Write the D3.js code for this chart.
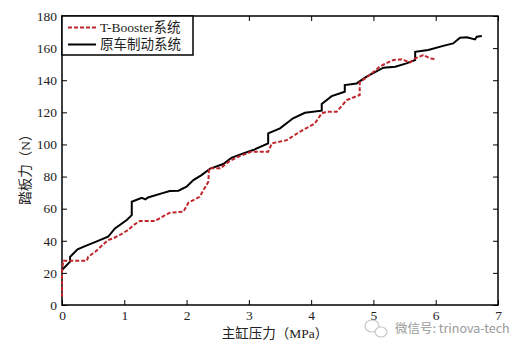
<!DOCTYPE html>
<html>
<head>
<meta charset="utf-8">
<script src="https://cdn.jsdelivr.net/npm/d3@7"></script>
<style>
  body { margin: 0; background: #fff; }
  svg text { font-family: "Times New Roman", "Liberation Serif", "DejaVu Serif", "Noto Sans CJK SC", serif; }
</style>
</head>
<body>
<svg id="chart" width="532" height="349"></svg>
<script>
// Data: [master cylinder pressure MPa, pedal force N]
var xTicks = [0, 1, 2, 3, 4, 5, 6, 7];
var yTicks = [0, 20, 40, 60, 80, 100, 120, 140, 160, 180];

var seriesNames = ["T-Booster系统", "原车制动系统"];

var tBooster = [
  [0, 5.2], [0, 20.7], [0.02, 27.6], [0.4, 27.6], [0.42, 30], [0.53, 33],
  [0.74, 40.5], [0.82, 41.5], [0.93, 43.6], [1.06, 46.7], [1.15, 49.8],
  [1.25, 52.3], [1.49, 52.3], [1.73, 57.5], [1.95, 58.1], [2.03, 63.7],
  [2.21, 67.4], [2.35, 76.8], [2.36, 85.1], [2.54, 85.1], [2.7, 89.9],
  [2.83, 92.3], [3.04, 95.5], [3.31, 95.5], [3.37, 100.7], [3.61, 102.7],
  [3.82, 107.9], [4.06, 113.1], [4.17, 119.4], [4.25, 120.4], [4.41, 120.4],
  [4.57, 127.6], [4.78, 130.8], [4.78, 138.7], [4.94, 143.2], [5.1, 148.4],
  [5.18, 150.1], [5.32, 152.6], [5.45, 153], [5.59, 151.1], [5.67, 153.6],
  [5.8, 155.7], [5.91, 153.6], [6.01, 153]
];

var original = [
  [0, 21.8], [0.13, 27], [0.13, 30], [0.25, 34.7], [0.37, 36.7], [0.53, 39.2],
  [0.74, 42.5], [0.85, 47.7], [1.04, 52.9], [1.12, 56], [1.12, 64.3],
  [1.28, 66.8], [1.34, 65.8], [1.38, 67], [1.6, 69.5], [1.73, 71],
  [1.87, 71.2], [2.0, 73.7], [2.11, 77.8], [2.24, 80.9], [2.38, 85],
  [2.59, 87.8], [2.72, 91.7], [2.91, 94.4], [3.07, 96.5], [3.31, 100.7],
  [3.31, 106.9], [3.5, 110], [3.71, 116.3], [3.9, 119.7], [4.17, 121],
  [4.17, 125.2], [4.33, 130.1], [4.54, 132.8], [4.54, 137], [4.73, 138],
  [4.89, 142.2], [5.16, 147.8], [5.35, 148.4], [5.53, 150.5], [5.67, 152.6],
  [5.67, 157.7], [5.88, 158.8], [6.12, 161.4], [6.28, 162.9], [6.39, 166.4],
  [6.5, 166.7], [6.63, 165.4], [6.66, 167.1], [6.74, 167.5]
];

var red = "#c0272d";
var serif = "'Times New Roman', 'Liberation Serif', 'DejaVu Serif', 'Noto Sans CJK SC', serif";

var svg = d3.select("#chart");
var margin = { left: 62, top: 16, right: 34, bottom: 44 };
var w = 532 - margin.left - margin.right,
    h = 349 - margin.top - margin.bottom;

var x = d3.scaleLinear().domain([0, 7]).range([0, w]);
var y = d3.scaleLinear().domain([0, 180]).range([h, 0]);

var g = svg.append("g").attr("transform", `translate(${margin.left},${margin.top})`);

// axes, ticks pointing inward on all four sides
function styleAxis(sel) {
  sel.attr("font-family", null);
  sel.select(".domain").remove();
  sel.selectAll("line").attr("stroke", "#000");
  sel.selectAll("text")
    .attr("fill", "#222")
    .style("font-size", "13.5px")
    .style("font-family", serif);
}

var fmt = d3.format("d");

g.append("g")
  .attr("transform", `translate(0,${h})`)
  .call(d3.axisBottom(x).tickValues(xTicks).tickFormat(fmt).tickSize(-5).tickPadding(5))
  .call(styleAxis);
g.append("g")
  .call(d3.axisTop(x).tickValues(xTicks).tickSize(-5).tickFormat(""))
  .call(styleAxis);
g.append("g")
  .call(d3.axisLeft(y).tickValues(yTicks).tickFormat(fmt).tickSize(-5).tickPadding(5))
  .call(styleAxis);
g.append("g")
  .attr("transform", `translate(${w},0)`)
  .call(d3.axisRight(y).tickValues(yTicks).tickSize(-5).tickFormat(""))
  .call(styleAxis);

g.append("rect")
  .attr("width", w).attr("height", h)
  .attr("fill", "none").attr("stroke", "#000").attr("stroke-width", 1.5);

var line = d3.line().x(d => x(d[0])).y(d => y(d[1]));

g.append("path")
  .datum(original)
  .attr("d", line)
  .attr("fill", "none")
  .attr("stroke", "#000")
  .attr("stroke-width", 2);

g.append("path")
  .datum(tBooster)
  .attr("d", line)
  .attr("fill", "none")
  .attr("stroke", red)
  .attr("stroke-width", 2)
  .attr("stroke-dasharray", "4,2");

// legend
var leg = g.append("g");
leg.append("rect")
  .attr("width", 131).attr("height", 39)
  .attr("fill", "#fff").attr("stroke", "#000").attr("stroke-width", 1.5);
var legStyles = [
  { stroke: red, dash: "4,2" },
  { stroke: "#000", dash: null }
];
seriesNames.forEach((name, i) => {
  var ly = 11.5 + i * 17;
  leg.append("line")
    .attr("x1", 6).attr("x2", 34).attr("y1", ly).attr("y2", ly)
    .attr("stroke", legStyles[i].stroke)
    .attr("stroke-width", 2)
    .attr("stroke-dasharray", legStyles[i].dash);
  leg.append("text")
    .attr("x", 38).attr("y", ly).attr("dy", "0.35em")
    .attr("fill", "#222")
    .style("font-size", "13.5px")
    .style("font-family", serif)
    .text(name);
});

// axis titles
svg.append("text")
  .attr("x", 275).attr("y", 333).attr("dy", "0.35em")
  .attr("text-anchor", "middle")
  .attr("fill", "#222")
  .style("font-size", "13.5px")
  .style("font-family", serif)
  .text("主缸压力（MPa）");

svg.append("text")
  .attr("transform", "translate(25,166) rotate(-90)")
  .attr("text-anchor", "middle")
  .attr("dy", "0.35em")
  .attr("fill", "#222")
  .style("font-size", "13.5px")
  .style("font-family", serif)
  .text("踏板力（N）");

// watermark
var wm = svg.append("g").attr("opacity", 0.55);
wm.append("ellipse").attr("cx", 372).attr("cy", 326).attr("rx", 7).attr("ry", 6)
  .attr("fill", "none").attr("stroke", "#999").attr("stroke-width", 1.2);
wm.append("ellipse").attr("cx", 381).attr("cy", 332).attr("rx", 6).attr("ry", 5)
  .attr("fill", "#fff").attr("stroke", "#999").attr("stroke-width", 1.2);
svg.append("text")
  .attr("x", 395).attr("y", 329).attr("dy", "0.35em")
  .attr("fill", "#9a9a9a")
  .style("font-family", "'Noto Sans CJK SC', 'DejaVu Sans', sans-serif")
  .style("font-size", "12.5px")
  .text("微信号: trinova-tech");
</script>
</body>
</html>
